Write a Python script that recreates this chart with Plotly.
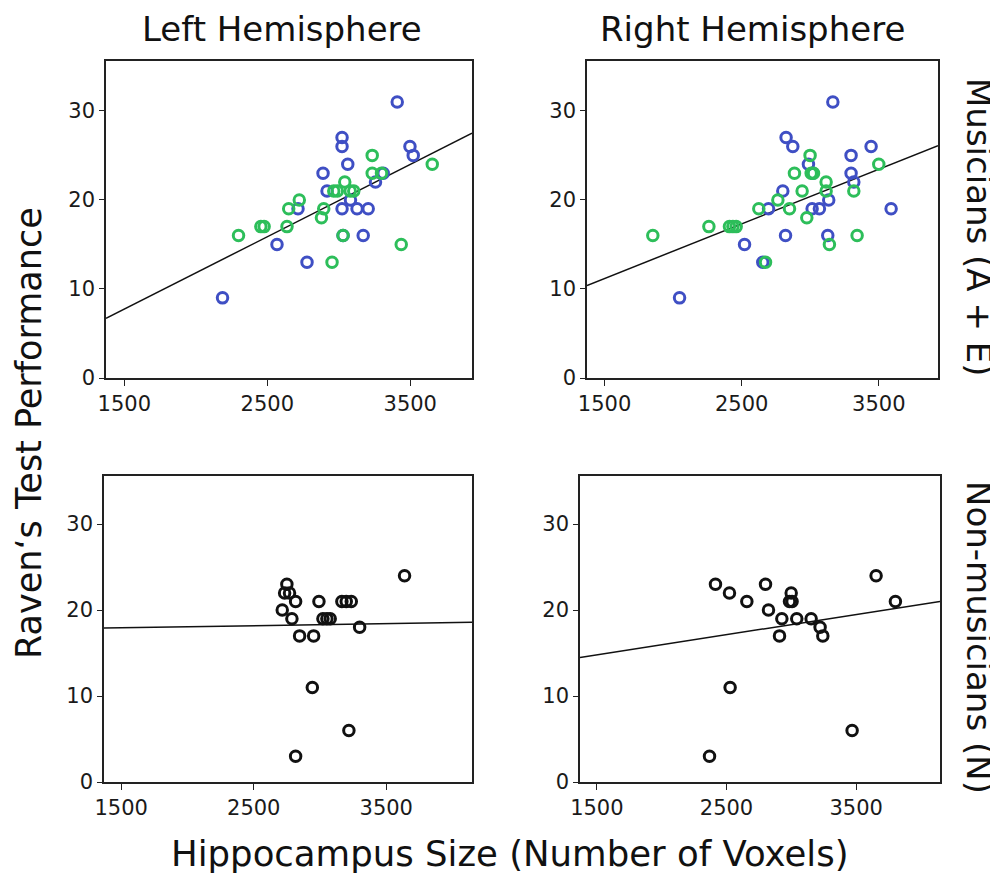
import plotly.graph_objects as go

# ---------------- data ----------------
# Top-left: Left hemisphere, musicians (blue = group A, green = group E)
tl_blue_x = [3409, 3023, 3023, 3498, 3521, 3063, 2890, 3311, 3257, 2918, 3082, 2715, 3023, 3128, 3206, 3171, 3030, 2568, 2778, 2187]
tl_blue_y = [31, 27, 26, 26, 25, 24, 23, 23, 22, 21, 20, 19, 19, 19, 19, 16, 16, 15, 13, 9]
tl_green_x = [3234, 3654, 3234, 3299, 3042, 2965, 2990, 3080, 3105, 2724, 2650, 2895, 2879, 2455, 2478, 2638, 2299, 3030, 3437, 2953]
tl_green_y = [25, 24, 23, 23, 22, 21, 21, 21, 21, 20, 19, 19, 18, 17, 17, 17, 16, 16, 15, 13]

# Top-right: Right hemisphere, musicians
tr_blue_x = [3165, 2824, 2873, 3444, 3298, 2987, 3298, 3019, 3318, 2800, 3135, 2696, 3014, 3067, 3590, 2820, 3128, 2521, 2654, 2047]
tr_blue_y = [31, 27, 26, 26, 25, 24, 23, 23, 22, 21, 20, 19, 19, 19, 19, 16, 16, 15, 13, 9]
tr_green_x = [1852, 2261, 2411, 2436, 2460, 2625, 2764, 2849, 2885, 2941, 2975, 2999, 3007, 3024, 3116, 3116, 3140, 3318, 3342, 3500, 2674]
tr_green_y = [16, 17, 17, 17, 17, 19, 20, 19, 23, 21, 18, 25, 23, 23, 22, 21, 15, 21, 16, 24, 13]

# Bottom-left: Left hemisphere, non-musicians
bl_x = [3638, 2750, 2733, 2770, 2816, 2715, 2788, 2992, 3022, 3052, 3077, 3165, 3198, 3236, 3299, 2846, 2952, 2942, 3218, 2816]
bl_y = [24, 23, 22, 22, 21, 20, 19, 21, 19, 19, 19, 21, 21, 21, 18, 17, 17, 11, 6, 3]

# Bottom-right: Right hemisphere, non-musicians
br_x = [2415, 2523, 2657, 2801, 2824, 2927, 2909, 2999, 2986, 3006, 3042, 3153, 3222, 3243, 3654, 3803, 2528, 3469, 2369]
br_y = [23, 22, 21, 23, 20, 19, 17, 22, 21, 21, 19, 19, 18, 17, 24, 21, 11, 6, 3]

# Fit lines (slope, intercept)
fit_tl = (0.00812, -4.44)
fit_tr = (0.00613, 1.98)
fit_bl = (0.00025, 17.56)
fit_br = (0.00234, 11.29)

x_ticks = [1500, 2500, 3500]
y_ticks = [0, 10, 20, 30]
x_range_top = [1372, 3932]
x_range_bottom = [1370, 4147]
y_range = [0, 35.6]

col_titles = ["Left Hemisphere", "Right Hemisphere"]
row_titles = ["Musicians (A + E)", "Non-musicians (N)"]
x_title = "Hippocampus Size (Number of Voxels)"
y_title = "Raven\u2018s Test Performance"

BLUE = "#3f4fc4"
GREEN = "#2dbe5a"
BLACK = "#111111"
FONT = "DejaVu Sans"

# the page body has an 8px margin, so the figure is drawn 8px in from the corner
OFF = 8
W, H = 990, 869

def fx(px):
    return (px - OFF) / W

def fy(py):
    return 1 - (py - OFF) / H

# panel pixel boxes in page coordinates: (left, right, top, bottom)
panels = {
    1: (106, 472, 61, 378),
    2: (587, 938, 61, 378),
    3: (104, 472, 476, 782),
    4: (580, 940, 476, 782),
}

fig = go.Figure()

def add_fit(n, fit, xr):
    s, b = fit
    xs = [xr[0], xr[1]]
    ys = [s * v + b for v in xs]
    fig.add_trace(go.Scatter(x=xs, y=ys, mode="lines", line=dict(color="#111111", width=1.5),
                             xaxis=f"x{n}", yaxis=f"y{n}", showlegend=False, hoverinfo="skip"))

def add_pts(n, xs, ys, color):
    fig.add_trace(go.Scatter(x=xs, y=ys, mode="markers",
                             marker=dict(symbol="circle-open", size=10.5, color=color,
                                         line=dict(color=color, width=3)),
                             xaxis=f"x{n}", yaxis=f"y{n}", showlegend=False))

add_fit(1, fit_tl, x_range_top)
add_pts(1, tl_blue_x, tl_blue_y, BLUE)
add_pts(1, tl_green_x, tl_green_y, GREEN)

add_fit(2, fit_tr, x_range_top)
add_pts(2, tr_blue_x, tr_blue_y, BLUE)
add_pts(2, tr_green_x, tr_green_y, GREEN)

add_fit(3, fit_bl, x_range_bottom)
add_pts(3, bl_x, bl_y, BLACK)

add_fit(4, fit_br, x_range_bottom)
add_pts(4, br_x, br_y, BLACK)

layout = dict(
    width=W, height=H,
    margin=dict(l=0, r=0, t=0, b=0),
    paper_bgcolor="white", plot_bgcolor="white",
    showlegend=False,
    font=dict(family=FONT, color="#111111"),
)

for n, (l, r, t, b) in panels.items():
    xr = x_range_top if n <= 2 else x_range_bottom
    key_x = "xaxis" if n == 1 else f"xaxis{n}"
    key_y = "yaxis" if n == 1 else f"yaxis{n}"
    layout[key_x] = dict(
        domain=[fx(l), fx(r)], range=xr, anchor=f"y{n}",
        tickvals=x_ticks, ticktext=[str(v) for v in x_ticks],
        ticks="outside", ticklen=6, tickwidth=1, tickcolor="#222",
        showline=True, linecolor="#222", linewidth=1.5, mirror=True,
        showgrid=False, zeroline=False, automargin=False,
        tickfont=dict(family=FONT, size=21, color="#1a1a1a"),
    )
    layout[key_y] = dict(
        domain=[fy(b), fy(t)], range=y_range, anchor=f"x{n}",
        tickvals=y_ticks, ticktext=[str(v) for v in y_ticks],
        ticks="outside", ticklen=5, tickwidth=1, tickcolor="#222",
        showline=True, linecolor="#222", linewidth=1.5, mirror=True,
        showgrid=False, zeroline=False, automargin=False,
        tickfont=dict(family=FONT, size=21, color="#1a1a1a"),
    )

fig.update_layout(**layout)

ann_font = dict(family=FONT, size=34, color="#111111")
annotations = [
    dict(text=col_titles[0], x=fx(282), y=fy(29), xref="paper", yref="paper",
         showarrow=False, xanchor="center", yanchor="middle", font=ann_font),
    dict(text=col_titles[1], x=fx(752), y=fy(29), xref="paper", yref="paper",
         showarrow=False, xanchor="center", yanchor="middle", font=ann_font),
    dict(text=row_titles[0], x=fx(979), y=fy(227), xref="paper", yref="paper",
         showarrow=False, xanchor="center", yanchor="middle", textangle=90, font=ann_font),
    dict(text=row_titles[1], x=fx(979), y=fy(637), xref="paper", yref="paper",
         showarrow=False, xanchor="center", yanchor="middle", textangle=90, font=ann_font),
    dict(text=x_title, x=fx(510), y=fy(853), xref="paper", yref="paper",
         showarrow=False, xanchor="center", yanchor="middle", font=dict(family=FONT, size=35.5, color="#111111")),
    dict(text=y_title, x=fx(29), y=fy(433), xref="paper", yref="paper",
         showarrow=False, xanchor="center", yanchor="middle", textangle=-90, font=dict(family=FONT, size=35, color="#111111")),
]
fig.update_layout(annotations=annotations)

fig.write_html("out.html")
